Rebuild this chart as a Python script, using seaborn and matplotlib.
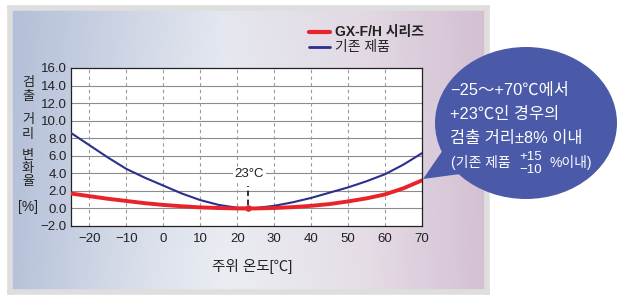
import numpy as np
import pandas as pd
import matplotlib
matplotlib.use("Agg")
import matplotlib.pyplot as plt
import seaborn as sns
from matplotlib.patches import Ellipse, Polygon
from matplotlib.lines import Line2D

# ---------------- data ----------------
temps = [-25, -20, -15, -10, -5, 0, 5, 10, 15, 20, 25, 30, 35, 40, 45, 50, 55, 60, 65, 70]
gx_values = [1.7, 1.4, 1.1, 0.85, 0.6, 0.4, 0.25, 0.12, 0.05, 0.0, 0.0, 0.05, 0.15, 0.3, 0.5, 0.8, 1.15, 1.6, 2.3, 3.2]
old_values = [8.6, 7.2, 5.8, 4.5, 3.5, 2.6, 1.7, 0.95, 0.4, 0.08, 0.05, 0.3, 0.7, 1.2, 1.8, 2.4, 3.1, 3.9, 5.0, 6.3]
series_names = ["GX-F/H 시리즈", "기존 제품"]
series_colors = ["#e8232a", "#2b2f8e"]
x_ticks = [-20, -10, 0, 10, 20, 30, 40, 50, 60, 70]
y_ticks = [-2.0, 0.0, 2.0, 4.0, 6.0, 8.0, 10.0, 12.0, 14.0, 16.0]
ref_temp = 23
ylabel_chars = ["검", "출", "거", "리", "변", "화", "율", "[%]"]
bubble_lines = ["−25〜+70℃에서", "+23℃인 경우의", "검출 거리±8% 이내"]

df = pd.DataFrame({
    "temp": temps * 2,
    "value": gx_values + old_values,
    "series": [series_names[0]] * len(temps) + [series_names[1]] * len(temps),
})

sns.set_theme(style="white")
plt.rcParams["font.family"] = ["Liberation Sans", "Noto Sans CJK KR", "DejaVu Sans"]
plt.rcParams["axes.unicode_minus"] = True

W, H = 617, 295
fig = plt.figure(figsize=(W / 100, H / 100), dpi=100)
fig.patch.set_facecolor("white")


def fx(x):
    return x / W


def fy(y):
    return 1 - y / H


# ---------------- background panel ----------------
px0, py0, px1, py1 = 10, 8, 487, 292
bg = fig.add_axes([fx(px0), fy(py1), (px1 - px0) / W, (py1 - py0) / H], zorder=0)
nx, ny = 300, 150
xs = np.linspace(0, 1, nx)
ys = np.linspace(0, 1, ny)
stops_x = [0.0, 0.45, 0.75, 1.0]
stops_c = np.array([[0xb3, 0xbf, 0xd8], [0xe4, 0xe7, 0xef], [0xe2, 0xd8, 0xe3], [0xd3, 0xbf, 0xd2]]) / 255.0
row = np.stack([np.interp(xs, stops_x, stops_c[:, k]) for k in range(3)], axis=-1)
img = np.repeat(row[None, :, :], ny, axis=0)
yy, xx = np.meshgrid(ys, xs, indexing="ij")
light = 0.25 * np.clip(yy, 0, 1) * np.exp(-((xx - 0.45) / 0.35) ** 2)
img = img + (1 - img) * light[..., None]
bg.imshow(img, aspect="auto", extent=[0, 1, 1, 0])
bg.set_xticks([])
bg.set_yticks([])
for s in bg.spines.values():
    s.set_color("#dedede")
    s.set_linewidth(4)

# ---------------- main chart ----------------
ax = fig.add_axes([fx(71), fy(226), (422 - 71) / W, (226 - 68) / H], zorder=2)
ax.set_facecolor("white")
sns.lineplot(data=df[df["series"] == series_names[1]], x="temp", y="value",
             color=series_colors[1], linewidth=1.5, ax=ax, legend=False, zorder=3)
sns.lineplot(data=df[df["series"] == series_names[0]], x="temp", y="value",
             color=series_colors[0], linewidth=2.8, ax=ax, legend=False, zorder=4)
ax.set_xlim(-25, 70)
ax.set_ylim(-2, 16)
ax.set_xticks(x_ticks)
ax.set_xticklabels([str(v).replace("-", "−") for v in x_ticks])
ax.set_yticks(y_ticks)
ax.set_yticklabels([f"{v:.1f}".replace("-", "−") for v in y_ticks])
ax.tick_params(axis="both", length=0, labelsize=9.5, colors="#222222")
ax.tick_params(axis="x", pad=5)
ax.tick_params(axis="y", pad=3)
ax.set_xlabel("")
ax.set_ylabel("")
for y in y_ticks[1:-1]:
    ax.axhline(y, color="#8c8c8c", lw=0.8, zorder=1)
for x in x_ticks[:-1]:
    ax.axvline(x, color="#9a9a9a", lw=0.8, ls=(0, (3, 3)), zorder=1)
for s in ax.spines.values():
    s.set_color("#222222")
    s.set_linewidth(0.9)

# 23°C marker
ax.plot([ref_temp, ref_temp], [0.35, 2.6], color="#222222", lw=1.3, ls=(0, (3, 2)), zorder=5)
ax.scatter([ref_temp], [0.0], s=14, color=series_colors[0], zorder=6)
ax.text(ref_temp + 0.3, 3.9, "23°C", ha="center", va="center", fontsize=9.5, color="#222222",
        bbox=dict(facecolor="white", edgecolor="none", pad=1.0), zorder=5)

# ---------------- overlay (legend, labels, bubble) ----------------
ov = fig.add_axes([0, 0, 1, 1], zorder=5)
ov.set_xlim(0, W)
ov.set_ylim(H, 0)
ov.axis("off")
ov.patch.set_alpha(0)

# legend
ov.add_line(Line2D([309, 330], [32, 32], color=series_colors[0], lw=3))
ov.text(335, 32, series_names[0], ha="left", va="center", fontsize=10, fontweight="bold", color="#222222")
ov.add_line(Line2D([309, 330], [47, 47], color=series_colors[1], lw=2))
ov.text(335, 47, series_names[1], ha="left", va="center", fontsize=10, color="#222222")

# y label (stacked vertical characters)
ylab_pos = [83, 97, 120, 135, 156, 169, 182, 207]
ylab_size = [9.5, 9.5, 9.5, 9.5, 9.5, 9.5, 9.5, 10]
for ch, yp, fs in zip(ylabel_chars, ylab_pos, ylab_size):
    ov.text(28, yp, ch, ha="center", va="center", fontsize=fs, color="#222222")

# x label
ov.text(252, 266, "주위 온도[℃]", ha="center", va="center", fontsize=10.5, color="#222222")

# speech bubble
bubble_color = "#4a5aa8"
ov.add_patch(Ellipse((526, 123), 182, 152, color=bubble_color, lw=0))
ov.add_patch(Polygon([(423, 179), (443, 150), (490, 170)], closed=True, color=bubble_color, lw=0))
for txt, yp in zip(bubble_lines, [90, 114, 138]):
    ov.text(450, yp, txt, ha="left", va="center", fontsize=11.8, color="white")
ov.text(451, 163, "(기존 제품", ha="left", va="center", fontsize=10, color="white")
ov.text(519, 157, "+15", ha="left", va="center", fontsize=9.5, color="white")
ov.text(519, 170, "−10", ha="left", va="center", fontsize=9.5, color="white")
ov.text(549, 163, "%이내)", ha="left", va="center", fontsize=10, color="white")

fig.savefig("out.png", dpi=100)
